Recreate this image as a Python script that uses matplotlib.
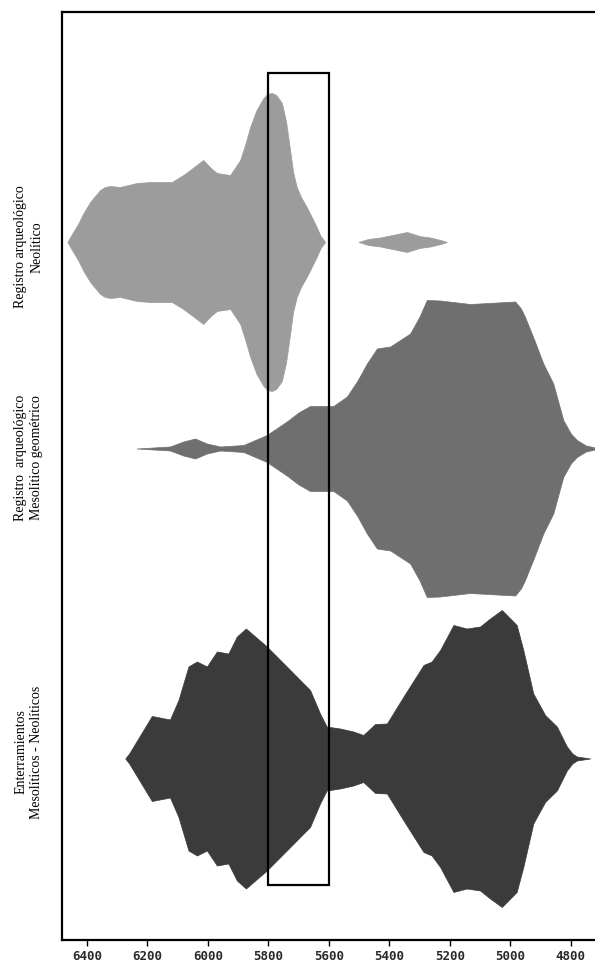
import numpy as np
import matplotlib.pyplot as plt
from matplotlib.patches import Rectangle

# years cal BC (x) and half-width of each summed-probability shape (arbitrary units)
neo_years = [6464, 6449, 6429, 6411, 6389, 6356, 6340, 6323, 6290, 6235, 6191, 6119,
             6081, 6050, 6015, 5990, 5970, 5926, 5893, 5877, 5860, 5839, 5816, 5803,
             5788, 5774, 5755, 5741, 5728, 5718, 5706, 5692, 5673, 5640, 5627, 5612]
neo_width = [0, 8, 18, 29, 40, 52, 55, 56, 55, 59, 60, 60,
             67, 74, 82, 74, 69, 67, 82, 97, 115, 132, 144, 148,
             149, 147, 139, 120, 92, 70, 55, 45, 35, 15, 6, 0]
neo2_years = [5502, 5470, 5430, 5390, 5342, 5300, 5265, 5230, 5210]
neo2_width = [0, 3, 4.5, 7, 10, 6, 4.5, 2, 0]

meso_years = [6235, 6125, 6081, 6042, 6003, 5959, 5882, 5805, 5739, 5700, 5662, 5585,
              5540, 5505, 5474, 5441, 5397, 5331, 5300, 5276, 5232, 5133, 4984, 4965,
              4952, 4920, 4891, 4858, 4825, 4800, 4780, 4750, 4720, 4690]
meso_width = [0, 2, 7, 10, 5, 2, 3.5, 13.5, 27, 36, 42.5, 42.5,
              52, 68, 85, 100, 102, 115, 132, 148.5, 148, 144.5, 147, 140,
              132, 108, 85, 65, 28.5, 15, 8.5, 3, 1, 0]

ent_years = [6273, 6260, 6246, 6213, 6185, 6125, 6097, 6064, 6036, 6003, 5970, 5932,
             5904, 5874, 5805, 5739, 5695, 5662, 5629, 5607, 5563, 5519, 5486, 5447,
             5408, 5353, 5287, 5260, 5232, 5188, 5144, 5100, 5067, 5028, 4979, 4957,
             4924, 4885, 4846, 4813, 4795, 4780, 4736]
ent_width = [0, 5, 12, 28.5, 42.5, 39, 58.5, 92, 97, 92, 107, 105,
             122, 130, 112, 92, 78.5, 68.5, 45, 32, 30, 27, 23.5, 34.5,
             35, 62, 93.5, 97, 108.5, 133.5, 130, 132, 140, 148.5, 133.5, 108.5,
             65, 43.5, 32, 12, 5, 2, 0]

centres = [698, 491.5, 181.5]
label_pos = [693, 482, 188]
labels = ['Registro arqueológico\nNeolítico',
          'Registro  arqueológico\nMesolítico geométrico',
          'Enterramientos\nMesolíticos - Neolíticos']
colors = ['#9c9c9c', '#6f6f6f', '#3b3b3b']
ticks = [6400, 6200, 6000, 5800, 5600, 5400, 5200, 5000, 4800]
box_years = [5800, 5600]

fig = plt.figure(figsize=(5.95, 9.73), dpi=100)
ax = fig.add_axes([62/595, 33/973, 1 - 62/595, 928/973])

def violin(years, width, c, col):
    y = np.array(years, float)
    w = np.array(width, float)
    ax.fill_between(y, c - w, c + w, color=col, lw=0.5, ec=col,
                    joinstyle='round')

violin(neo_years, neo_width, centres[0], colors[0])
violin(neo2_years, neo2_width, centres[0], colors[0])
violin(meso_years, meso_width, centres[1], colors[1])
violin(ent_years, ent_width, centres[2], colors[2])

ax.add_patch(Rectangle((box_years[1], 55), box_years[0] - box_years[1], 812,
                       fill=False, ec='black', lw=1.6, zorder=5))

ax.set_xlim(6482, 4720)
ax.set_ylim(0, 928)
ax.set_xticks(ticks)
ax.set_xticklabels([str(t) for t in ticks], family='DejaVu Sans Mono',
                   fontsize=9, fontweight='bold', color='#2a2a2a')
ax.tick_params(axis='x', direction='out', length=4, width=1, pad=3)
ax.set_yticks([])
ax.spines['right'].set_visible(False)
for s in ['left', 'top', 'bottom']:
    ax.spines[s].set_linewidth(1.6)

for c, lab in zip(label_pos, labels):
    ax.text(-0.062, c, lab, transform=ax.get_yaxis_transform(), rotation=90,
            ha='center', va='center', family='Liberation Serif', fontsize=10,
            linespacing=1.3)

fig.savefig('out.png', dpi=100)
